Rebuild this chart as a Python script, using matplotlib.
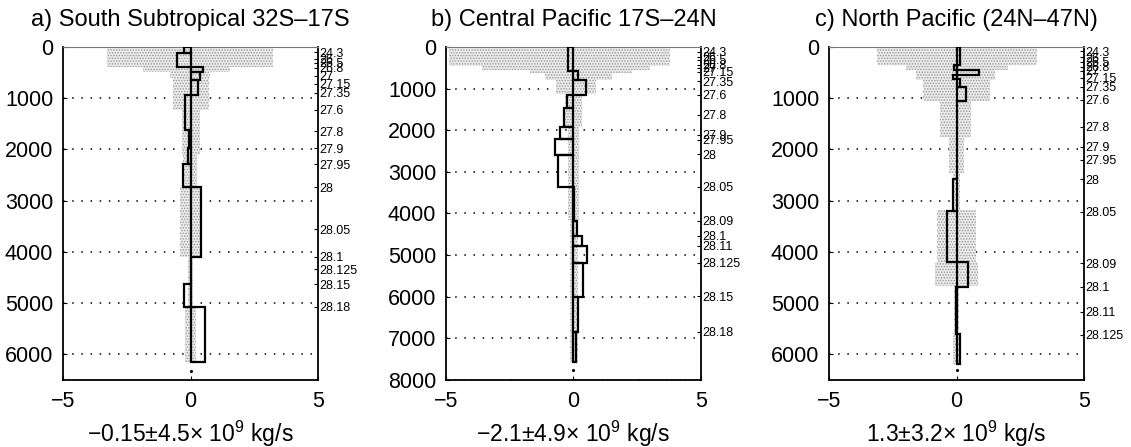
import numpy as np
import matplotlib
matplotlib.use("Agg")
import matplotlib.pyplot as plt

plt.rcParams['font.family'] = ['Liberation Sans', 'DejaVu Sans']
plt.rcParams['mathtext.fontset'] = 'custom'
plt.rcParams['mathtext.rm'] = 'Liberation Sans'
plt.rcParams['mathtext.it'] = 'Liberation Sans:italic'
plt.rcParams['hatch.linewidth'] = 0.7

# ---------------- panel a : South Subtropical ----------------
a_edges = [0, 120, 385, 480, 645, 935, 1620, 1980, 2285, 2730, 4100, 4620, 5075, 6146]
a_vals = [-0.26, -0.52, 0.49, 0.37, 0.29, -0.22, -0.05, -0.1, -0.3, 0.42, 0.02, -0.26, 0.58]
a_gray_edges = [0, 400, 490, 610, 1230, 2110, 2730, 4100, 5075, 6146]
a_gray_lo = [-3.27, -1.86, -0.8, -0.7, -0.35, -0.3, -0.41, -0.1, -0.2]
a_gray_hi = [3.24, 1.55, 0.77, 0.72, 0.37, 0.25, 0.44, 0.1, 0.2]
a_labels = ['24.3', '26', '26.5', '26.8', '27', '27.15', '27.35', '27.6', '27.8', '27.9',
            '27.95', '28', '28.05', '28.1', '28.125', '28.15', '28.18']
a_lab_depth = [100, 230, 310, 410, 560, 720, 890, 1230, 1650, 1980,
               2285, 2735, 3555, 4100, 4335, 4630, 5070]

# ---------------- panel b : Central Pacific ----------------
b_edges = [0, 590, 800, 1150, 1470, 1930, 2200, 2590, 3355, 4170, 4540, 4780, 5190, 6000, 6840, 7560]
b_vals = [-0.22, 0.16, 0.5, -0.25, -0.38, -0.52, -0.74, -0.61, 0.02, 0.15, 0.35, 0.52, 0.36, 0.17, 0.1]
b_gray_edges = [0, 450, 550, 630, 800, 1120, 1920, 4160, 7560]
b_gray_lo = [-4.9, -3.6, -1.7, -1.1, -0.7, -0.35, -0.22, -0.15]
b_gray_hi = [3.8, 3.0, 2.3, 1.5, 0.9, 0.35, 0.22, 0.18]
b_labels = ['24.3', '26', '26.5', '26.8', '27', '27.15', '27.35', '27.6', '27.8', '27.9',
            '27.95', '28', '28.05', '28.09', '28.1', '28.11', '28.125', '28.15', '28.18']
b_lab_depth = [120, 240, 310, 430, 500, 600, 820, 1150, 1630, 2110,
               2230, 2580, 3355, 4170, 4540, 4780, 5190, 5995, 6840]

# ---------------- panel c : North Pacific ----------------
c_edges = [0, 350, 450, 550, 630, 790, 1060, 2580, 3200, 4200, 4680, 5600, 6180]
c_vals = [0.14, -0.1, 0.87, -0.12, 0.14, 0.38, 0.03, -0.15, -0.36, 0.45, -0.04, 0.12]
c_gray_edges = [0, 350, 450, 640, 1050, 1750, 2470, 3180, 4190, 4670, 5590, 6180]
c_gray_lo = [-3.1, -2.0, -1.6, -1.3, -0.65, -0.3, -0.15, -0.75, -0.86, -0.1, -0.15]
c_gray_hi = [3.15, 2.0, 1.5, 1.3, 0.55, 0.28, 0.15, 0.75, 0.85, 0.1, 0.15]
c_labels = ['24.3', '26', '26.5', '26.8', '27', '27.15', '27.35', '27.6', '27.8', '27.9',
            '27.95', '28', '28.05', '28.09', '28.1', '28.11', '28.125']
c_lab_depth = [80, 200, 290, 390, 460, 600, 780, 1035, 1555, 1945,
               2205, 2580, 3215, 4220, 4680, 5165, 5620]

titles = ['a) South Subtropical 32S\u201317S', 'b) Central Pacific 17S\u201324N',
          'c) North Pacific (24N\u201347N)']
xlabels = ['\u22120.15\u00b14.5\u00d7 10$^{9}$ kg/s', '\u22122.1\u00b14.9\u00d7 10$^{9}$ kg/s',
           '1.3\u00b13.2\u00d7 10$^{9}$ kg/s']
ymaxes = [6500, 8000, 6500]
bottom_dot = [6320, 7760, 6300]


def draw_panel(ax, edges, vals, g_edges, g_lo, g_hi, lab_depth, labels, ymax, title, xlabel, dot):
    edges = np.array(edges, float)
    g_edges = np.array(g_edges, float)
    g_lo = np.array(g_lo)
    g_hi = np.array(g_hi)
    # stippled uncertainty
    ax.barh((g_edges[:-1] + g_edges[1:]) / 2, g_hi - g_lo, height=np.diff(g_edges), left=g_lo,
            color='#ebebeb', hatch='......', edgecolor='#9a9a9a', linewidth=0, zorder=1)
    # layer transports
    ax.barh((edges[:-1] + edges[1:]) / 2, vals, height=np.diff(edges), left=0,
            fill=False, edgecolor='k', linewidth=1.6, zorder=3)
    ax.plot([0], [dot], 'k.', ms=2.5, zorder=3)

    ax.set_xlim(-5, 5)
    ax.set_ylim(ymax, 0)
    ax.set_xticks([-5, 0, 5])
    ax.set_yticks(np.arange(0, ymax + 1, 1000))
    ax.tick_params(direction='in', length=3, labelsize=15.5)
    ax.tick_params(axis='x', pad=8)
    ax.tick_params(axis='y', pad=7)
    ax.yaxis.grid(True, color='k', linestyle=(0, (1, 5)), linewidth=1.1)
    ax.set_axisbelow(True)
    for s in ['left', 'bottom', 'right']:
        ax.spines[s].set_linewidth(1.3)
    ax.spines['top'].set_linewidth(0.8)
    ax.spines['top'].set_color('#777777')
    ax.set_title(title, fontsize=17, pad=15)
    ax.set_xlabel(xlabel, fontsize=16.5, labelpad=5)

    ax2 = ax.twinx()
    ax2.set_ylim(ymax, 0)
    ax2.set_yticks(lab_depth)
    ax2.set_yticklabels(labels, fontsize=9)
    ax2.tick_params(direction='in', length=3, pad=1)
    for s in ax2.spines.values():
        s.set_visible(False)


fig = plt.figure(figsize=(11.31, 4.47), dpi=100)
lefts = [0.0557, 0.3943, 0.733]
data = [
    (a_edges, a_vals, a_gray_edges, a_gray_lo, a_gray_hi, a_lab_depth, a_labels),
    (b_edges, b_vals, b_gray_edges, b_gray_lo, b_gray_hi, b_lab_depth, b_labels),
    (c_edges, c_vals, c_gray_edges, c_gray_lo, c_gray_hi, c_lab_depth, c_labels),
]
for i in range(3):
    ax = fig.add_axes([lefts[i], 0.15, 0.2255, 0.745])
    draw_panel(ax, *data[i][:5], data[i][5], data[i][6], ymaxes[i], titles[i], xlabels[i], bottom_dot[i])

plt.savefig('out.png', dpi=100)
